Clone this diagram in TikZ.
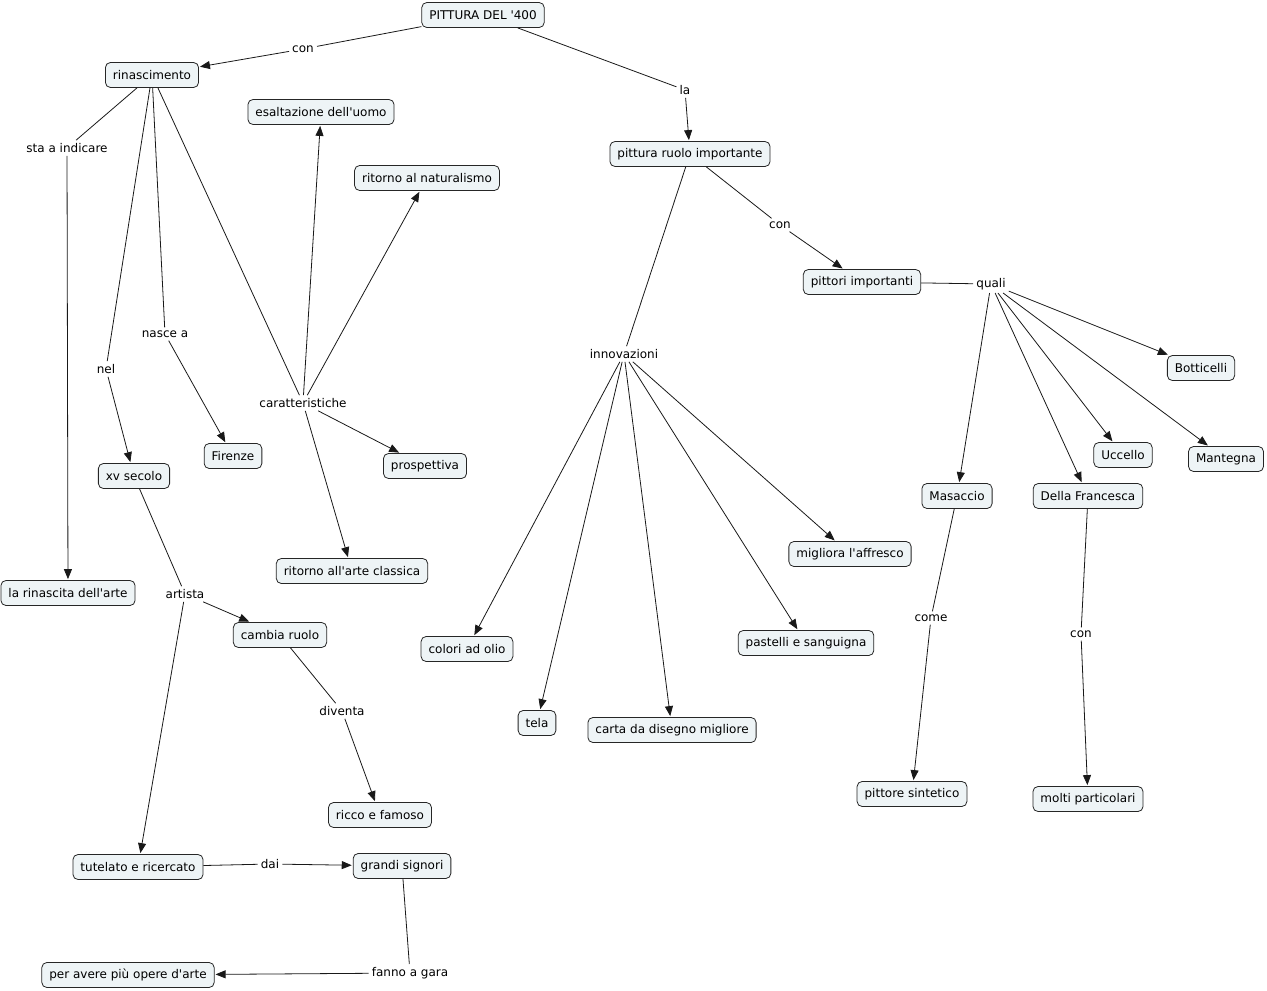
\documentclass[tikz,border=0pt]{standalone}
\usepackage{fontspec}
\newfontfamily\vfont{DejaVu Sans}
\usetikzlibrary{arrows.meta}
\definecolor{cfill}{RGB}{238,244,246}
\tikzset{
  concept/.style={draw=black!85, fill=cfill, rounded corners=5pt, line width=0.8pt,
    minimum height=25pt, inner xsep=7.5pt, inner ysep=2pt, font=\vfont\fontsize{12}{14}\selectfont},
  linkph/.style={inner sep=3pt, font=\vfont\fontsize{12}{14}\selectfont},
  ln/.style={line width=0.8pt, black!90},
  ar/.style={line width=0.8pt, black!90, -{Triangle[length=10pt,width=8pt]}, shorten >=1pt}
}
\begin{document}
\begin{tikzpicture}[x=1pt,y=-1pt]
\useasboundingbox (0,0) rectangle (1267,991);
% concepts
\node[concept] (top) at (483,15) {PITTURA DEL '400};
\node[concept] (rin) at (152,75) {rinascimento};
\node[concept] (esa) at (321,112) {esaltazione dell'uomo};
\node[concept] (nat) at (427,178) {ritorno al naturalismo};
\node[concept] (pri) at (690,154) {pittura ruolo importante};
\node[concept] (pit) at (862,282) {pittori importanti};
\node[concept] (bot) at (1201,368) {Botticelli};
\node[concept] (ucc) at (1123,455) {Uccello};
\node[concept] (man) at (1226,459) {Mantegna};
\node[concept] (mas) at (957,496) {Masaccio};
\node[concept] (del) at (1088,496) {Della Francesca};
\node[concept] (fir) at (233,456) {Firenze};
\node[concept] (pro) at (425,466) {prospettiva};
\node[concept] (xv) at (134,476) {xv secolo};
\node[concept] (cla) at (352,571) {ritorno all'arte classica};
\node[concept] (rna) at (68,593) {la rinascita dell'arte};
\node[concept] (cam) at (280,635) {cambia ruolo};
\node[concept] (col) at (467,649) {colori ad olio};
\node[concept] (pas) at (806,643) {pastelli e sanguigna};
\node[concept] (aff) at (850,554) {migliora l'affresco};
\node[concept] (tel) at (537,723) {tela};
\node[concept] (car) at (672,730) {carta da disegno migliore};
\node[concept] (sin) at (912,794) {pittore sintetico};
\node[concept] (mol) at (1088,799) {molti particolari};
\node[concept] (ric) at (380,815) {ricco e famoso};
\node[concept] (tut) at (138,867) {tutelato e ricercato};
\node[concept] (gra) at (402,866) {grandi signori};
\node[concept] (per) at (128,975) {per avere più opere d'arte};
% linking phrases
\node[linkph] (l1) at (303,49) {con};
\node[linkph] (l2) at (685,90) {la};
\node[linkph] (l3) at (67,148) {sta a indicare};
\node[linkph] (l4) at (106,369) {nel};
\node[linkph] (l5) at (165,334) {nasce a};
\node[linkph] (l6) at (303,403) {caratteristiche};
\node[linkph] (l7) at (780,225) {con};
\node[linkph] (l8) at (991,284) {quali};
\node[linkph] (l9) at (624,354) {innovazioni};
\node[linkph] (l10) at (185,594) {artista};
\node[linkph] (l11) at (342,711) {diventa};
\node[linkph] (l12) at (931,618) {come};
\node[linkph] (l13) at (1081,634) {con};
\node[linkph] (l14) at (270,864) {dai};
\node[linkph] (l15) at (410,973) {fanno a gara};
% connectors
\draw[ln] (top) -- (l1); \draw[ar] (l1) -- (rin);
\draw[ln] (top) -- (l2); \draw[ar] (l2) -- (pri);
\draw[ln] (rin) -- (l3); \draw[ar] (l3) -- (rna);
\draw[ln] (rin) -- (l4); \draw[ar] (l4) -- (xv);
\draw[ln] (rin) -- (l5); \draw[ar] (l5) -- (fir);
\draw[ln] (rin) -- (l6);
\draw[ar] (l6) -- (esa);
\draw[ar] (l6) -- (nat);
\draw[ar] (l6) -- (pro);
\draw[ar] (l6) -- (cla);
\draw[ln] (pri) -- (l7); \draw[ar] (l7) -- (pit);
\draw[ln] (pri) -- (l9);
\draw[ar] (l9) -- (col);
\draw[ar] (l9) -- (tel);
\draw[ar] (l9) -- (car);
\draw[ar] (l9) -- (pas);
\draw[ar] (l9) -- (aff);
\draw[ln] (pit) -- (l8);
\draw[ar] (l8) -- (bot);
\draw[ar] (l8) -- (man);
\draw[ar] (l8) -- (ucc);
\draw[ar] (l8) -- (del);
\draw[ar] (l8) -- (mas);
\draw[ln] (xv) -- (l10);
\draw[ar] (l10) -- (cam);
\draw[ar] (l10) -- (tut);
\draw[ln] (cam) -- (l11); \draw[ar] (l11) -- (ric);
\draw[ln] (mas) -- (l12); \draw[ar] (l12) -- (sin);
\draw[ln] (del) -- (l13); \draw[ar] (l13) -- (mol);
\draw[ln] (tut) -- (l14); \draw[ar] (l14) -- (gra);
\draw[ln] (gra) -- (l15); \draw[ar] (l15) -- (per);
\end{tikzpicture}
\end{document}
